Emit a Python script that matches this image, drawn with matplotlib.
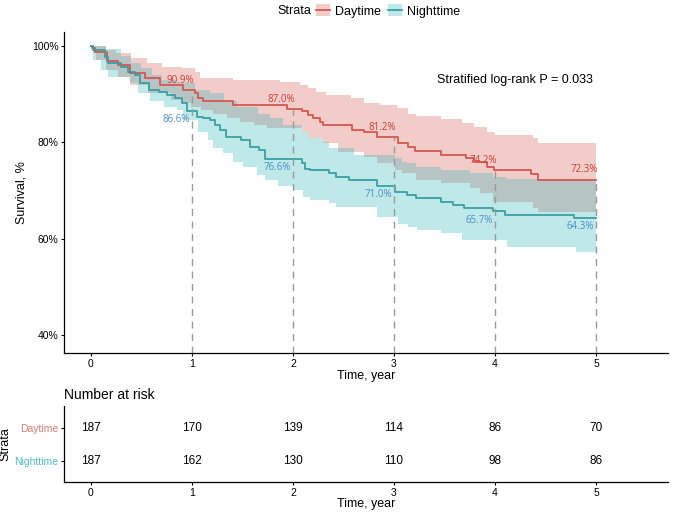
import numpy as np
import matplotlib
matplotlib.use("Agg")
import matplotlib.pyplot as plt
from matplotlib.patches import Patch
from matplotlib.lines import Line2D

plt.rcParams['font.family'] = ['Liberation Sans', 'DejaVu Sans']

# Kaplan-Meier curves (time in years, survival in %)
day_t = [0, 0.01, 0.04, 0.16, 0.27, 0.39, 0.53, 0.68, 0.91, 1.03, 1.06, 1.11, 1.41, 1.94,
         2.09, 2.15, 2.20, 2.27, 2.30, 2.58, 2.70, 2.83, 3.04, 3.14, 3.21, 3.47, 3.71, 3.79,
         3.92, 3.99, 4.36, 4.43, 5.0]
day_s = [100, 99.5, 98.8, 96.8, 96.1, 94.3, 93.3, 91.9, 90.9, 90.2, 89.2, 88.5, 87.8, 87.0,
         86.6, 85.7, 85.1, 84.2, 83.6, 82.6, 82.2, 81.2, 79.9, 79.1, 78.3, 77.4, 76.7, 75.9,
         75.0, 74.2, 73.5, 72.3, 72.3]
day_hi_t = [0, 0.15, 0.25, 0.40, 0.55, 0.70, 0.90, 1.03, 1.08, 1.41, 1.87, 2.07, 2.15, 2.23,
            2.33, 2.57, 2.70, 2.86, 3.03, 3.14, 3.22, 3.47, 3.67, 3.79, 3.92, 4.0, 4.38, 4.43, 5.0]
day_hi = [100, 99.2, 98.5, 97.5, 96.4, 95.7, 95.4, 94.7, 93.3, 93.0, 92.6, 91.9, 91.2, 90.5,
          89.8, 89.2, 88.1, 87.8, 87.1, 86.0, 85.5, 84.8, 84.0, 83.2, 82.2, 81.5, 80.9, 79.8, 79.8]
day_lo_t = [0, 0.02, 0.05, 0.15, 0.27, 0.39, 0.56, 0.79, 0.89, 0.99, 1.09, 1.21, 1.35, 1.48,
            1.61, 1.74, 2.09, 2.15, 2.30, 2.45, 2.70, 2.83, 3.01, 3.08, 3.22, 3.47, 3.75, 3.85,
            3.98, 4.38, 4.43, 5.0]
day_lo = [100, 98.5, 97.0, 95.0, 93.5, 91.9, 90.2, 88.8, 88.1, 87.4, 86.7, 86.0, 85.0, 84.3,
          83.6, 82.9, 82.2, 80.9, 79.8, 78.1, 77.0, 75.7, 74.3, 73.6, 72.2, 71.5, 70.5, 69.5,
          67.7, 66.4, 65.5, 65.5]

night_t = [0, 0.02, 0.14, 0.17, 0.30, 0.37, 0.44, 0.49, 0.57, 0.67, 0.75, 0.83, 0.90, 0.95,
           1.05, 1.11, 1.18, 1.23, 1.28, 1.34, 1.49, 1.57, 1.66, 1.72, 2.09, 2.12, 2.17, 2.36,
           2.43, 2.55, 2.83, 3.01, 3.13, 3.22, 3.47, 3.58, 3.69, 3.98, 4.10, 4.78, 5.0]
night_s = [100, 99.2, 97.8, 96.4, 95.7, 94.7, 94.0, 92.3, 90.9, 90.5, 89.8, 89.2, 88.1, 86.6,
           85.3, 85.0, 84.7, 83.6, 82.6, 81.2, 80.5, 79.1, 78.4, 76.6, 75.7, 74.6, 74.3, 73.6,
           72.9, 72.2, 71.0, 69.8, 69.1, 68.4, 67.7, 67.0, 66.4, 65.7, 65.0, 64.3, 64.3]
night_hi_t = [0, 0.15, 0.30, 0.40, 0.50, 0.60, 0.70, 0.85, 1.03, 1.18, 1.32, 1.45, 1.65, 1.77,
              1.90, 2.09, 2.15, 2.30, 2.36, 2.60, 3.01, 3.08, 3.13, 3.22, 3.47, 3.75, 3.98, 4.12, 5.0]
night_hi = [100, 99.3, 98.0, 96.5, 95.5, 94.0, 93.0, 92.3, 90.9, 90.2, 88.5, 87.4, 86.0, 85.0,
            83.6, 82.2, 80.9, 80.2, 78.8, 77.5, 76.7, 76.0, 75.7, 75.0, 74.3, 73.6, 72.9, 72.4, 72.4]
night_lo_t = [0, 0.02, 0.10, 0.17, 0.39, 0.47, 0.58, 0.72, 0.85, 0.91, 1.06, 1.16, 1.21, 1.31,
              1.41, 1.51, 1.64, 1.72, 1.85, 2.0, 2.10, 2.17, 2.36, 2.43, 2.83, 3.04, 3.14, 3.23,
              3.47, 3.67, 4.12, 4.80, 5.0]
night_lo = [100, 97.0, 95.0, 93.6, 92.3, 90.2, 88.5, 87.4, 86.7, 84.7, 82.2, 80.5, 78.8, 77.8,
            76.0, 75.0, 73.3, 72.2, 71.0, 70.2, 68.8, 68.1, 67.4, 66.7, 64.6, 63.2, 62.5, 61.9,
            61.2, 59.8, 58.4, 57.4, 57.4]

years = [1, 2, 3, 4, 5]
day_pct = [90.9, 87.0, 81.2, 74.2, 72.3]
night_pct = [86.6, 76.6, 71.0, 65.7, 64.3]

risk_times = [0, 1, 2, 3, 4, 5]
day_risk = [187, 170, 139, 114, 86, 70]
night_risk = [187, 162, 130, 110, 98, 86]

red = '#D4574F'
teal = '#3A9FA3'


def step_at(t, s, grid):
    idx = np.searchsorted(t, grid, side='right') - 1
    return np.asarray(s)[idx]


fig = plt.figure(figsize=(6.73, 5.12), dpi=100)
ax = fig.add_axes([0.0951, 0.3105, 0.8975, 0.627])
ax_r = fig.add_axes([0.0951, 0.0586, 0.8975, 0.1484])

# confidence bands + curves
g = np.unique(np.concatenate([day_lo_t, day_hi_t]))
ax.fill_between(g, step_at(day_lo_t, day_lo, g), step_at(day_hi_t, day_hi, g),
                step='post', color=red, alpha=0.3, linewidth=0)
ax.step(day_t, day_s, where='post', color=red, lw=1.3)
g = np.unique(np.concatenate([night_lo_t, night_hi_t]))
ax.fill_between(g, step_at(night_lo_t, night_lo, g), step_at(night_hi_t, night_hi, g),
                step='post', color='#2DB3B8', alpha=0.3, linewidth=0)
ax.step(night_t, night_s, where='post', color=teal, lw=1.3)

ylo = 36.36
ax.vlines(years, ylo, day_pct, colors='#9a9a9a', linestyles=(0, (5, 4)), lw=1.0)
for x, d, n in zip(years, day_pct, night_pct):
    ax.text(x + 0.02, d + 2.0, f'{d:.1f}%', ha='right', va='center', color='#D03C36',
            fontsize=7, family='Open Sans')
    ax.text(x - 0.02, n - 1.8, f'{n:.1f}%', ha='right', va='center', color='#4A8FCB',
            fontsize=7, family='Open Sans')

ax.text(3.43, 92.95, 'Stratified log-rank P = 0.033', ha='left', va='center', fontsize=9)

ax.set_xlim(-0.267, 5.713)
ax.set_ylim(ylo, 102.9)
ax.set_yticks([40, 60, 80, 100])
ax.set_yticklabels(['40%', '60%', '80%', '100%'])
ax.set_xticks(risk_times)
ax.set_xlabel('Time, year', fontsize=9, labelpad=1)
ax.set_ylabel('Survival, %', fontsize=9, labelpad=3)

# number at risk table
for x, d, n in zip(risk_times, day_risk, night_risk):
    ax_r.text(x, 2, str(d), ha='center', va='center', fontsize=8.5)
    ax_r.text(x, 1, str(n), ha='center', va='center', fontsize=8.5)
ax_r.set_xlim(-0.267, 5.713)
ax_r.set_ylim(0.382, 2.647)
ax_r.set_xticks(risk_times)
ax_r.set_yticks([2, 1])
ax_r.set_yticklabels(['Daytime', 'Nighttime'])
for lab, c in zip(ax_r.get_yticklabels(), ['#E07A70', '#4DBFC2']):
    lab.set_color(c)
ax_r.set_xlabel('Time, year', fontsize=9, labelpad=0)
ax_r.set_ylabel('Strata', fontsize=9, labelpad=2)
fig.text(0.0951, 1 - 395 / 512, 'Number at risk', ha='left', va='center', fontsize=10)

for a in (ax, ax_r):
    a.spines['top'].set_visible(False)
    a.spines['right'].set_visible(False)
    a.spines['left'].set_linewidth(0.9)
    a.spines['bottom'].set_linewidth(0.9)
    a.tick_params(length=2.5, width=0.8, labelsize=7.5, pad=1.5)

# legend
fig.text(277 / 673, 1 - 11 / 512, 'Strata', ha='left', va='center', fontsize=9)
handles = [(Patch(facecolor=red, alpha=0.3, edgecolor='none'), Line2D([], [], color=red, lw=1.3)),
           (Patch(facecolor='#2DB3B8', alpha=0.3, edgecolor='none'), Line2D([], [], color=teal, lw=1.3))]
fig.legend(handles, ['Daytime', 'Nighttime'], loc='center left',
           bbox_to_anchor=(316 / 673, 1 - 11 / 512), ncol=2, frameon=False, fontsize=9,
           handlelength=1.1, handleheight=1.1, handletextpad=0.4, columnspacing=0.6,
           borderpad=0, borderaxespad=0)

fig.savefig('out.png', dpi=100)
